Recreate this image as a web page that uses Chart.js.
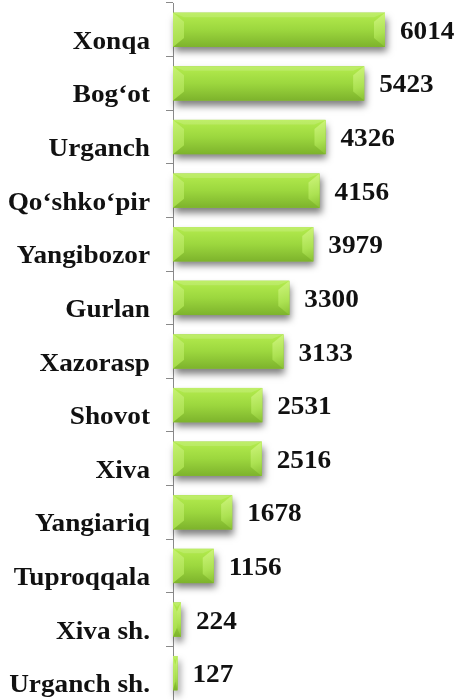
<!DOCTYPE html>
<html><head><meta charset="utf-8">
<script src="https://cdn.jsdelivr.net/npm/chart.js@4/dist/chart.umd.min.js"></script>
<style>html,body{margin:0;padding:0;background:#fff}#wrap{width:458px;height:700px}</style>
</head><body><div id="wrap"><canvas id="c" width="458" height="700"></canvas></div>
<script>
const categories = ["Xonqa","Bog\u2018ot","Urganch","Qo\u2018shko\u2018pir","Yangibozor","Gurlan","Xazorasp","Shovot","Xiva","Yangiariq","Tuproqqala","Xiva sh.","Urganch sh."];
const values = [6014,5423,4326,4156,3979,3300,3133,2531,2516,1678,1156,224,127];

const FONT = 'bold 25px "Liberation Serif", "Times New Roman", serif';
const SX = 1.09;

const barStyle = {
  id: 'barStyle',
  beforeDatasetsDraw(chart) {
    const ctx = chart.ctx;
    const meta = chart.getDatasetMeta(0);
    ctx.save();
    meta.data.forEach(el => {
      const p = el.getProps(['x','y','base','height'], true);
      const x1 = p.base, x2 = p.x, y1 = p.y - p.height/2, h = p.height;
      ctx.shadowColor = 'rgba(0,0,0,0.5)';
      ctx.shadowBlur = 7;
      ctx.shadowOffsetX = 2;
      ctx.shadowOffsetY = 5;
      ctx.fillStyle = '#8fc43a';
      ctx.fillRect(x1, y1, x2 - x1, h);
    });
    ctx.restore();
  },
  afterDatasetsDraw(chart) {
    const ctx = chart.ctx;
    const meta = chart.getDatasetMeta(0);
    ctx.save();
    meta.data.forEach((el, i) => {
      const p = el.getProps(['x','y','base','height'], true);
      const x1 = p.base, x2 = p.x, y1 = p.y - p.height/2, y2 = p.y + p.height/2, h = p.height;
      const g = ctx.createLinearGradient(0, y1, 0, y2);
      g.addColorStop(0, '#b4ec4e');
      g.addColorStop(0.5, '#9cd73e');
      g.addColorStop(1, '#7db32c');
      ctx.fillStyle = g;
      ctx.fillRect(x1, y1, x2 - x1, h);
      const w = Math.min(11, (x2 - x1) / 2);
      const d = Math.min(9, h/3);
      const gr = ctx.createLinearGradient(x2 - w, y1, x2, y2);
      gr.addColorStop(0, '#d0f67e');
      gr.addColorStop(0.6, '#ace252');
      gr.addColorStop(1, '#88c032');
      ctx.fillStyle = gr;
      ctx.beginPath();
      ctx.moveTo(x2, y1); ctx.lineTo(x2, y2); ctx.lineTo(x2 - w, y2 - d); ctx.lineTo(x2 - w, y1 + d); ctx.closePath();
      ctx.fill();
      const gl = ctx.createLinearGradient(x1, y1, x1 + w, y2);
      gl.addColorStop(0, '#c6f272');
      gl.addColorStop(1, '#a2da46');
      ctx.fillStyle = gl;
      ctx.beginPath();
      ctx.moveTo(x1, y1); ctx.lineTo(x1 + w, y1 + d); ctx.lineTo(x1 + w, y2 - d); ctx.lineTo(x1, y2); ctx.closePath();
      ctx.fill();
      ctx.fillStyle = 'rgba(255,255,255,0.15)';
      ctx.beginPath();
      ctx.moveTo(x1, y1); ctx.lineTo(x2, y1); ctx.lineTo(x2 - w, y1 + d * 0.5); ctx.lineTo(x1 + w, y1 + d * 0.5); ctx.closePath();
      ctx.fill();
      ctx.fillStyle = '#111';
      ctx.font = FONT;
      ctx.textAlign = 'left';
      ctx.textBaseline = 'alphabetic';
      ctx.save();
      ctx.translate(x2 + 15, p.y + 9);
      ctx.scale(SX, 1);
      ctx.fillText(String(values[i]), 0, 0);
      ctx.restore();
    });
    const ys = chart.scales.y;
    ctx.fillStyle = '#111';
    ctx.font = FONT;
    ctx.textAlign = 'right';
    ctx.textBaseline = 'alphabetic';
    categories.forEach((c, i) => {
      const y = ys.getPixelForValue(i);
      ctx.save();
      ctx.translate(150, y + 19);
      ctx.scale(SX, 1);
      ctx.fillText(c, 0, 0);
      ctx.restore();
    });
    ctx.restore();
  }
};

new Chart(document.getElementById('c'), {
  type: 'bar',
  data: {
    labels: categories,
    datasets: [{ data: values, backgroundColor: 'rgba(0,0,0,0)', borderWidth: 0,
      barPercentage: 0.64, categoryPercentage: 1 }]
  },
  options: {
    indexAxis: 'y',
    responsive: false,
    animation: false,
    layout: { padding: { top: 3, right: 0, bottom: 0, left: 0 } },
    plugins: { legend: { display: false }, tooltip: { enabled: false } },
    scales: {
      x: { display: false, min: 0, max: 8085 },
      y: {
        afterFit(s) { s.width = 173; },
        ticks: { display: false },
        grid: { display: true, offset: true, drawOnChartArea: false, drawTicks: true, tickLength: 7, color: '#8a8a8a', lineWidth: 1 },
        border: { display: true, color: '#8a8a8a', width: 1 }
      }
    }
  },
  plugins: [barStyle]
});
</script>
</body></html>
